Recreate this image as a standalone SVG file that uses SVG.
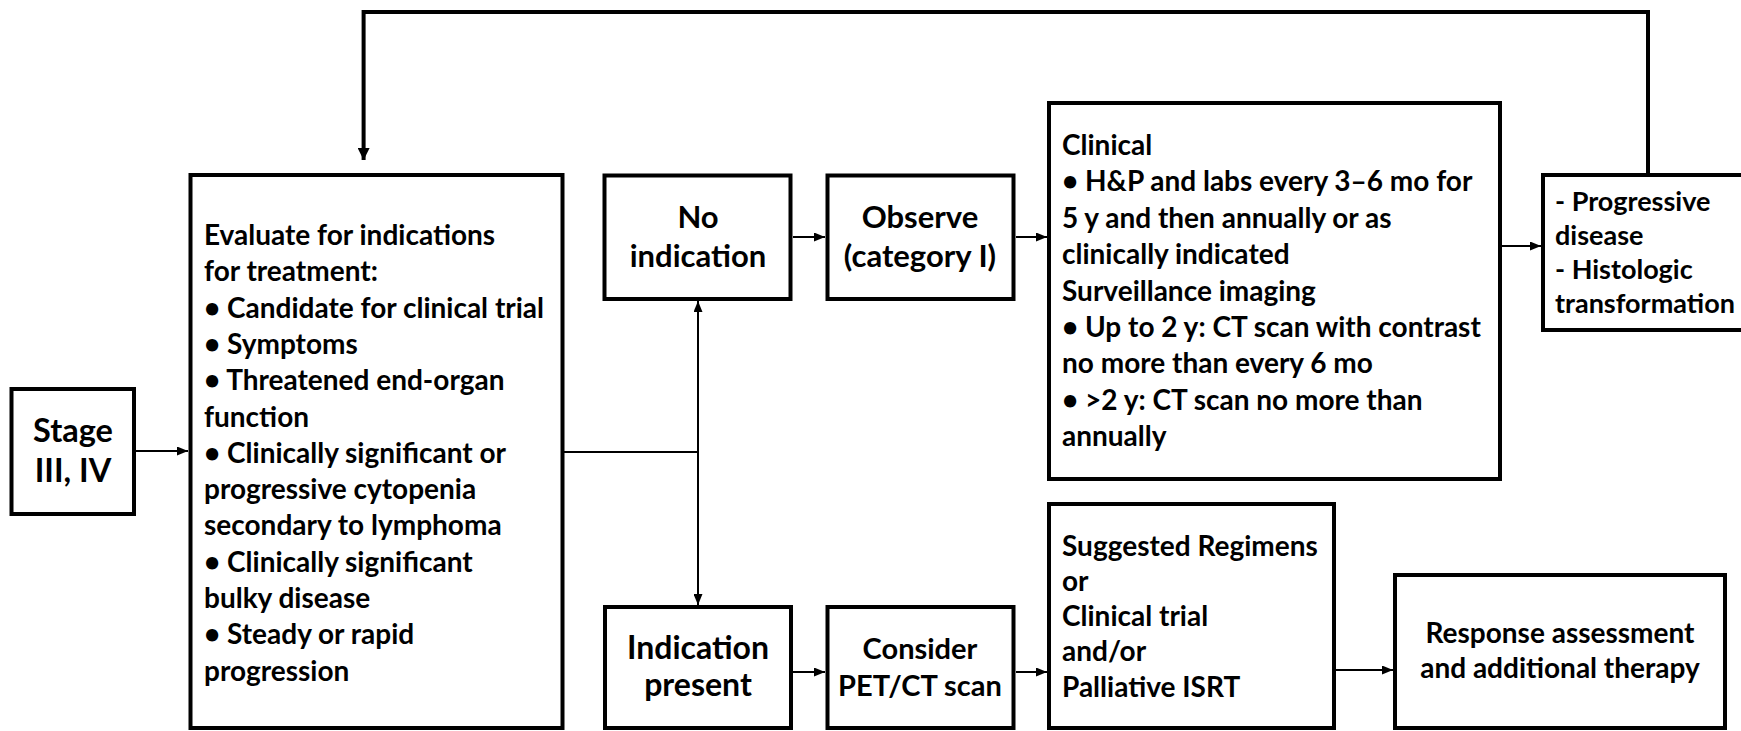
<svg xmlns="http://www.w3.org/2000/svg" width="1741" height="731" viewBox="0 0 1741 731">
<style>
.box{fill:#fff;stroke:#000;stroke-width:4}
.t{font-family:Lato,"Liberation Sans",sans-serif;font-weight:bold;fill:#000;font-size:28px}
.big{font-size:31px;text-anchor:middle}
.mid{text-anchor:middle}
.c{fill:none;stroke:#000;stroke-width:2}
.ct{fill:none;stroke:#000;stroke-width:4}
</style>
<defs>
<marker id="ah" markerUnits="userSpaceOnUse" markerWidth="11" markerHeight="9" refX="11" refY="4.5" orient="auto">
<path d="M0,0 L11,4.5 L0,9 z" fill="#000"/>
</marker>
<marker id="ahb" markerUnits="userSpaceOnUse" markerWidth="12" markerHeight="12" refX="12" refY="6" orient="auto">
<path d="M0,0 L12,6 L0,12 z" fill="#000"/>
</marker>
</defs>
<rect width="1741" height="731" fill="#fff"/>
<g id="connectors">
<path class="ct" d="M1648,175 V12 H363.6 V160" marker-end="url(#ahb)"/>
<path class="c" d="M136,451 H188" marker-end="url(#ah)"/>
<path class="c" d="M563,452 H698"/>
<path class="c" d="M698,452 V301" marker-end="url(#ah)"/>
<path class="c" d="M698,452 V605" marker-end="url(#ah)"/>
<path class="c" d="M793,237 H825" marker-end="url(#ah)"/>
<path class="c" d="M1016,237 H1047" marker-end="url(#ah)"/>
<path class="c" d="M1502,246 H1541" marker-end="url(#ah)"/>
<path class="c" d="M793,672 H825" marker-end="url(#ah)"/>
<path class="c" d="M1016,672 H1047" marker-end="url(#ah)"/>
<path class="c" d="M1336,670 H1393" marker-end="url(#ah)"/>
</g>
<g id="stage">
<rect class="box" x="11.5" y="389" width="122.5" height="125"/>
<text class="t big" x="73" y="442" style="font-size:32.5px">Stage</text>
<text class="t big" x="73" y="482" style="font-size:32.5px">III, IV</text>
</g>
<g id="evaluate">
<rect class="box" x="190.5" y="175" width="372" height="553"/>
<text class="t">
<tspan x="204" y="245">Evaluate for indications</tspan>
<tspan x="204" y="281.3">for treatment:</tspan>
<tspan x="204" y="317.6">• Candidate for clinical trial</tspan>
<tspan x="204" y="353.9">• Symptoms</tspan>
<tspan x="204" y="390.2">• Threatened end-organ</tspan>
<tspan x="204" y="426.5">function</tspan>
<tspan x="204" y="462.8">• Clinically significant or</tspan>
<tspan x="204" y="499.1">progressive cytopenia</tspan>
<tspan x="204" y="535.4">secondary to lymphoma</tspan>
<tspan x="204" y="571.7">• Clinically significant</tspan>
<tspan x="204" y="608">bulky disease</tspan>
<tspan x="204" y="644.3">• Steady or rapid</tspan>
<tspan x="204" y="680.6">progression</tspan>
</text>
</g>
<g id="no-indication">
<rect class="box" x="604.5" y="175.5" width="186" height="123.5"/>
<text class="t big" x="698" y="228">No</text>
<text class="t big" x="698" y="267">indication</text>
</g>
<g id="observe">
<rect class="box" x="827.5" y="175.5" width="186" height="123.5"/>
<text class="t big" x="920" y="228">Observe</text>
<text class="t big" x="920" y="267">(category I)</text>
</g>
<g id="clinical">
<rect class="box" x="1049" y="103" width="451" height="376"/>
<text class="t">
<tspan x="1062" y="155">Clinical</tspan>
<tspan x="1062" y="191.4">• H&amp;P and labs every 3–6 mo for</tspan>
<tspan x="1062" y="227.8">5 y and then annually or as</tspan>
<tspan x="1062" y="264.2">clinically indicated</tspan>
<tspan x="1062" y="300.6">Surveillance imaging</tspan>
<tspan x="1062" y="337">• Up to 2 y: CT scan with contrast</tspan>
<tspan x="1062" y="373.4">no more than every 6 mo</tspan>
<tspan x="1062" y="409.8">• &gt;2 y: CT scan no more than</tspan>
<tspan x="1062" y="446.2">annually</tspan>
</text>
</g>
<g id="progressive">
<rect class="box" x="1543" y="175" width="210" height="155"/>
<text class="t" style="font-size:27px">
<tspan x="1555" y="211">- Progressive</tspan>
<tspan x="1555" y="245">disease</tspan>
<tspan x="1555" y="279">- Histologic</tspan>
<tspan x="1555" y="313">transformation</tspan>
</text>
</g>
<g id="indication-present">
<rect class="box" x="605" y="607" width="186" height="121"/>
<text class="t big" x="698" y="659" style="font-size:32px">Indication</text>
<text class="t big" x="698" y="696" style="font-size:32px">present</text>
</g>
<g id="consider">
<rect class="box" x="827.5" y="607" width="186" height="121"/>
<text class="t big" x="920" y="659" style="font-size:29px">Consider</text>
<text class="t big" x="920" y="696" style="font-size:29px">PET/CT scan</text>
</g>
<g id="suggested">
<rect class="box" x="1049" y="504" width="285" height="224"/>
<text class="t">
<tspan x="1062" y="556">Suggested Regimens</tspan>
<tspan x="1062" y="591">or</tspan>
<tspan x="1062" y="626">Clinical trial</tspan>
<tspan x="1062" y="661">and/or</tspan>
<tspan x="1062" y="697">Palliative ISRT</tspan>
</text>
</g>
<g id="response">
<rect class="box" x="1395" y="575" width="330" height="153"/>
<text class="t mid" x="1560" y="643">Response assessment</text>
<text class="t mid" x="1560" y="678">and additional therapy</text>
</g>
</svg>
